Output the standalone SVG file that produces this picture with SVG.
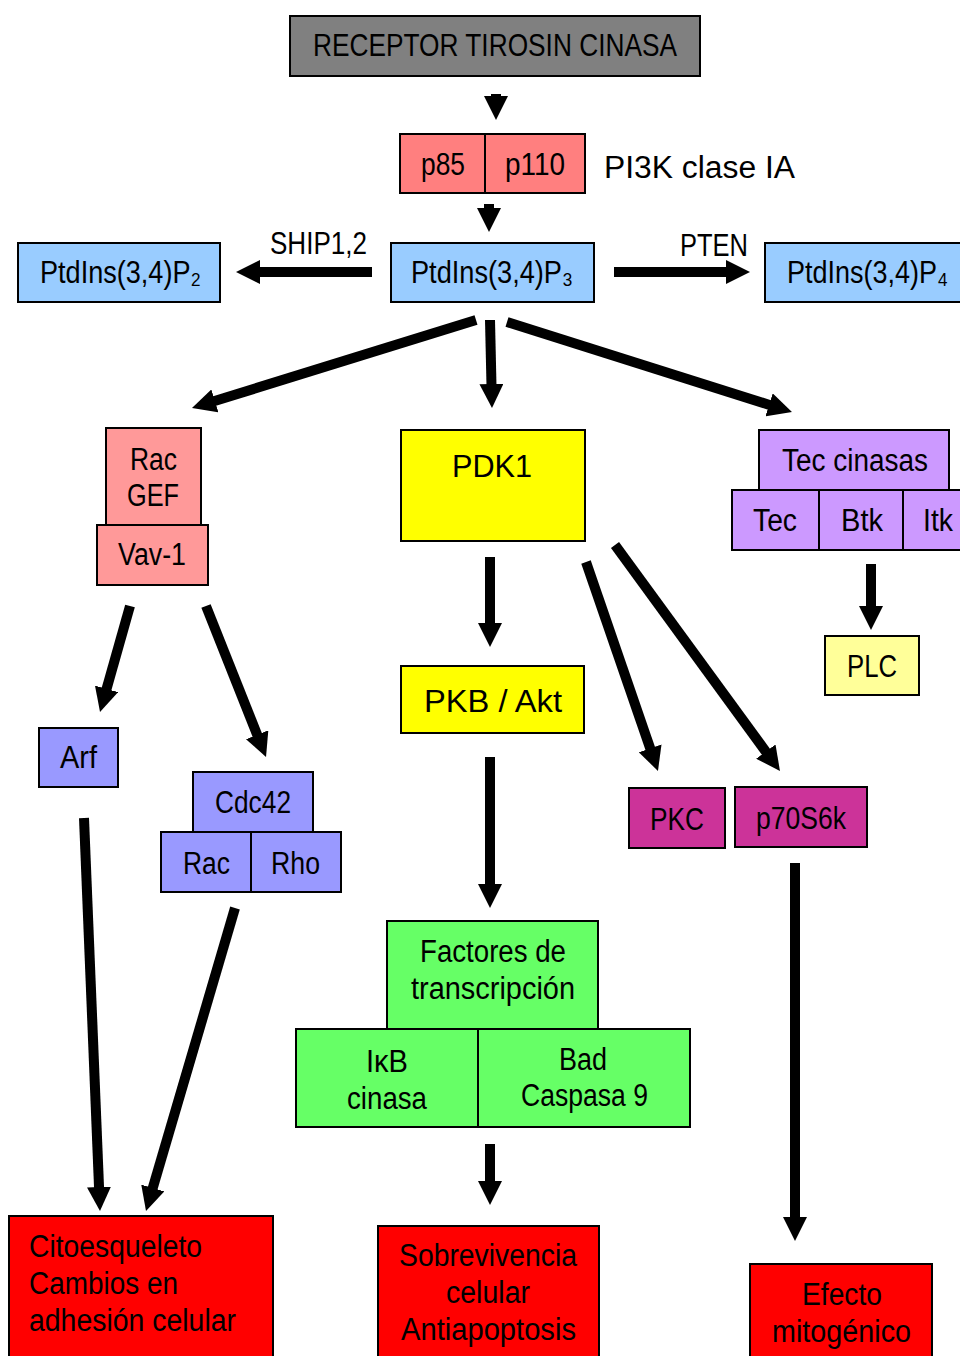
<svg xmlns="http://www.w3.org/2000/svg" width="960" height="1356" viewBox="0 0 960 1356">
<style>
text{font-family:"Liberation Sans",Arial,sans-serif;font-size:31px;fill:#000;text-anchor:middle}
.b{stroke:#000;stroke-width:2}
.c{stroke:#000;stroke-width:10;fill:none;marker-end:url(#ah)}
.l{text-anchor:start}
.gray{fill:#808080}.sal{fill:#ff7f7f}.pink{fill:#ff9999}.blue{fill:#99ccff}.yel{fill:#ffff00}.lyel{fill:#ffff99}
.vio{fill:#cc99ff}.per{fill:#9999ff}.mag{fill:#cc3399}.grn{fill:#66ff66}.red{fill:#ff0000}
</style>
<defs>
<marker id="ah" markerUnits="userSpaceOnUse" markerWidth="24" markerHeight="24" viewBox="0 0 24 24" refX="2" refY="12" orient="auto">
<path d="M0,0 L24,12 L0,24 Z" fill="#000"/>
</marker>
</defs>
<g id="connectors">
<line class="c" x1="496" y1="94" x2="496" y2="98"/>
<line class="c" x1="489" y1="204" x2="489" y2="210"/>
<line class="c" x1="372" y1="272" x2="258" y2="272"/>
<line class="c" x1="614" y1="272" x2="728" y2="272"/>
<line class="c" x1="476" y1="320" x2="213" y2="401.5"/>
<line class="c" x1="490" y1="320" x2="491.5" y2="386"/>
<line class="c" x1="507" y1="322" x2="771" y2="405.4"/>
<line class="c" x1="871" y1="564" x2="871" y2="608"/>
<line class="c" x1="130" y1="606" x2="106" y2="690.8"/>
<line class="c" x1="206" y1="606" x2="257.9" y2="736.6"/>
<line class="c" x1="490" y1="557" x2="490" y2="625"/>
<line class="c" x1="586" y1="562" x2="650.8" y2="750.2"/>
<line class="c" x1="615" y1="545" x2="767" y2="753.2"/>
<line class="c" x1="490" y1="757" x2="490" y2="886"/>
<line class="c" x1="84" y1="818" x2="99.1" y2="1189"/>
<line class="c" x1="235" y1="908" x2="152.2" y2="1189.9"/>
<line class="c" x1="490" y1="1144" x2="490" y2="1183"/>
<line class="c" x1="795" y1="863" x2="795" y2="1219"/>
</g>
<g id="receptor"><rect class="b gray" x="290" y="16" width="410" height="60"/><text x="495" y="56" font-size="32" textLength="364" lengthAdjust="spacingAndGlyphs">RECEPTOR TIROSIN CINASA</text></g>
<g id="p85"><rect class="b sal" x="400" y="134" width="85" height="59"/><text x="443" y="175" textLength="44" lengthAdjust="spacingAndGlyphs">p85</text></g>
<g id="p110"><rect class="b sal" x="485" y="134" width="100" height="59"/><text x="535" y="175" textLength="60" lengthAdjust="spacingAndGlyphs">p110</text></g>
<g id="pi3k-label"><text class="l" x="604" y="178" font-size="34" textLength="191" lengthAdjust="spacingAndGlyphs">PI3K clase IA</text></g>
<g id="pip2"><rect class="b blue" x="18" y="243" width="202" height="59"/><text class="l" x="40" y="283" font-size="32" textLength="161" lengthAdjust="spacingAndGlyphs">PtdIns(3,4)P₂</text></g>
<g id="pip3"><rect class="b blue" x="391" y="243" width="203" height="59"/><text class="l" x="411" y="283" font-size="32" textLength="162" lengthAdjust="spacingAndGlyphs">PtdIns(3,4)P₃</text></g>
<g id="pip4"><rect class="b blue" x="765" y="243" width="200" height="59"/><text class="l" x="787" y="283" font-size="32" textLength="161" lengthAdjust="spacingAndGlyphs">PtdIns(3,4)P₄</text></g>
<g id="ship-label"><text x="318.5" y="254" font-size="29" textLength="97" lengthAdjust="spacingAndGlyphs">SHIP1,2</text></g>
<g id="pten-label"><text x="714" y="256" font-size="29" textLength="68" lengthAdjust="spacingAndGlyphs">PTEN</text></g>
<g id="racgef"><rect class="b pink" x="106" y="428" width="95" height="97"/><text x="153.5" y="470" textLength="47" lengthAdjust="spacingAndGlyphs">Rac</text><text x="153" y="506" textLength="52" lengthAdjust="spacingAndGlyphs">GEF</text></g>
<g id="vav1"><rect class="b pink" x="97" y="525" width="111" height="60"/><text x="152" y="565" textLength="68" lengthAdjust="spacingAndGlyphs">Vav-1</text></g>
<g id="pdk1"><rect class="b yel" x="401" y="430" width="184" height="111"/><text x="492" y="477" font-size="36" textLength="80" lengthAdjust="spacingAndGlyphs">PDK1</text></g>
<g id="teccinasas"><rect class="b vio" x="759" y="430" width="190" height="60"/><text x="855" y="471" textLength="146" lengthAdjust="spacingAndGlyphs">Tec cinasas</text></g>
<g id="tec"><rect class="b vio" x="732" y="490" width="87" height="60"/><text x="775" y="531" textLength="44" lengthAdjust="spacingAndGlyphs">Tec</text></g>
<g id="btk"><rect class="b vio" x="819" y="490" width="84" height="60"/><text x="862" y="531" textLength="42" lengthAdjust="spacingAndGlyphs">Btk</text></g>
<g id="itk"><rect class="b vio" x="903" y="490" width="62" height="60"/><text x="938" y="531" textLength="30" lengthAdjust="spacingAndGlyphs">Itk</text></g>
<g id="plc"><rect class="b lyel" x="825" y="636" width="94" height="59"/><text x="872" y="677" textLength="50" lengthAdjust="spacingAndGlyphs">PLC</text></g>
<g id="arf"><rect class="b per" x="39" y="728" width="79" height="59"/><text x="78.5" y="768" textLength="37" lengthAdjust="spacingAndGlyphs">Arf</text></g>
<g id="cdc42"><rect class="b per" x="193" y="772" width="120" height="60"/><text x="253" y="813" textLength="76" lengthAdjust="spacingAndGlyphs">Cdc42</text></g>
<g id="rac"><rect class="b per" x="161" y="832" width="90" height="60"/><text x="206.5" y="874" textLength="47" lengthAdjust="spacingAndGlyphs">Rac</text></g>
<g id="rho"><rect class="b per" x="251" y="832" width="90" height="60"/><text x="295.5" y="874" textLength="49" lengthAdjust="spacingAndGlyphs">Rho</text></g>
<g id="pkb"><rect class="b yel" x="401" y="666" width="183" height="67"/><text x="493" y="712" font-size="36" textLength="138" lengthAdjust="spacingAndGlyphs">PKB / Akt</text></g>
<g id="pkc"><rect class="b mag" x="629" y="788" width="96" height="60"/><text x="677" y="830" textLength="54" lengthAdjust="spacingAndGlyphs">PKC</text></g>
<g id="p70s6k"><rect class="b mag" x="735" y="787" width="132" height="60"/><text x="801" y="829" textLength="90" lengthAdjust="spacingAndGlyphs">p70S6k</text></g>
<g id="factores"><rect class="b grn" x="387" y="921" width="211" height="108"/><text x="493" y="962" textLength="146" lengthAdjust="spacingAndGlyphs">Factores de</text><text x="493" y="999" textLength="164" lengthAdjust="spacingAndGlyphs">transcripción</text></g>
<g id="ikb"><rect class="b grn" x="296" y="1029" width="182" height="98"/><text x="387" y="1072" textLength="42" lengthAdjust="spacingAndGlyphs">IκB</text><text x="387" y="1109" textLength="80" lengthAdjust="spacingAndGlyphs">cinasa</text></g>
<g id="bad"><rect class="b grn" x="478" y="1029" width="212" height="98"/><text x="583" y="1070" textLength="48" lengthAdjust="spacingAndGlyphs">Bad</text><text x="584.5" y="1106" textLength="127" lengthAdjust="spacingAndGlyphs">Caspasa 9</text></g>
<g id="citoesqueleto"><rect class="b red" x="9" y="1216" width="264" height="150"/><text class="l" x="29" y="1257" textLength="173" lengthAdjust="spacingAndGlyphs">Citoesqueleto</text><text class="l" x="29" y="1294" textLength="149" lengthAdjust="spacingAndGlyphs">Cambios en</text><text class="l" x="29" y="1331" textLength="207" lengthAdjust="spacingAndGlyphs">adhesión celular</text></g>
<g id="sobrevivencia"><rect class="b red" x="378" y="1226" width="221" height="140"/><text x="488" y="1266" textLength="178" lengthAdjust="spacingAndGlyphs">Sobrevivencia</text><text x="488" y="1303" textLength="84" lengthAdjust="spacingAndGlyphs">celular</text><text x="488.5" y="1340" textLength="175" lengthAdjust="spacingAndGlyphs">Antiapoptosis</text></g>
<g id="efecto"><rect class="b red" x="750" y="1264" width="182" height="102"/><text x="842" y="1305" textLength="80" lengthAdjust="spacingAndGlyphs">Efecto</text><text x="841.5" y="1342" textLength="139" lengthAdjust="spacingAndGlyphs">mitogénico</text></g>
</svg>
